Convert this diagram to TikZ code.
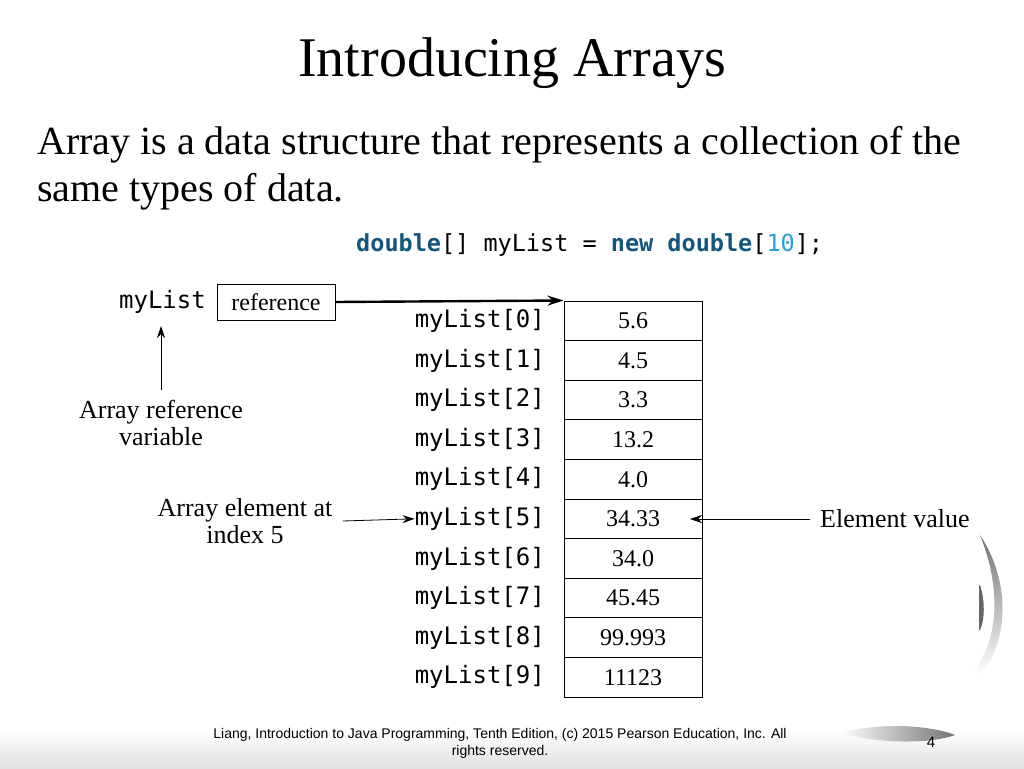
\documentclass[tikz,border=0pt]{standalone}
\usepackage{fontspec}
\usetikzlibrary{arrows.meta}
\setmainfont{Liberation Serif}
\setmonofont{DejaVu Sans Mono}
\newfontfamily\footfont{Liberation Sans}
\definecolor{kw}{RGB}{20,85,125}
\definecolor{num}{RGB}{40,160,215}
\begin{document}
\begin{tikzpicture}[x=1pt,y=-1pt,
  cell/.style={draw,line width=1pt,minimum width=138pt,minimum height=39.6pt,font=\fontsize{24}{26}\selectfont,inner sep=0pt},
  idx/.style={anchor=east,font=\ttfamily\fontsize{24}{26}\selectfont,inner sep=0pt},
  lbl/.style={align=center,font=\fontsize{26}{27}\selectfont,inner sep=0pt},
  arr/.style={-{Stealth[length=12pt,width=8pt]},line width=0.8pt}]
\useasboundingbox (0,0) rectangle (1024,768);
\fill[white] (0,0) rectangle (1024,768);
\shade[top color=white,bottom color=black!12] (0,730) rectangle (1024,768);
\shade[left color=white,right color=black!55] (840,733) .. controls (880,722) and (930,725) .. (955,735) .. controls (930,744) and (880,744) .. (840,733);
\shade[top color=black!55,bottom color=white] (980,535) .. controls (1010,580) and (1010,640) .. (980,675) -- (975,670) .. controls (1000,635) and (1000,585) .. (980,535);
\fill[black!60] (980,585) .. controls (985,600) and (985,620) .. (980,630) -- (979,630) -- (979,585) -- cycle;
\node[font=\fontsize{56}{60}\selectfont] (title) at (512,63) {Introducing Arrays};
\node[anchor=west,align=left,inner sep=0pt,font=\fontsize{40}{47}\selectfont] (body) at (37,168) {Array is a data structure that represents a collection of the\\ same types of data.};
\node[anchor=west,inner sep=0pt] (code) at (356,245) {\ttfamily\fontsize{23.5}{25}\selectfont\textbf{\color{kw}double}[] myList = \textbf{\color{kw}new double}[{\color{num}10}];};
\foreach \i/\v in {0/5.6,1/4.5,2/3.3,3/13.2,4/4.0,5/34.33,6/34.0,7/45.45,8/99.993,9/11123}{
  \node[cell] (c\i) at (633,{320.8+39.6*\i}) {\v};
  \node[idx] (l\i) at (545,{320.8+39.6*\i}) {myList[\i]};
}
\node[draw,line width=1pt,minimum width=118pt,minimum height=36pt,inner sep=0pt,font=\fontsize{24}{26}\selectfont] (ref) at (276,302) {reference};
\node[anchor=east,inner sep=0pt,font=\ttfamily\fontsize{24}{26}\selectfont] (ml) at (206,302) {myList};
\draw[line width=2.4pt,-{Stealth[length=16pt,width=10pt]}] (ref.east) -- (c0.north west);
\node[lbl] (arv) at (161,423) {Array reference\\variable};
\draw[arr] (arv.north) ++(0,-10) coordinate (a1) (a1) -- (161,326);
\node[lbl] (ae) at (245,521) {Array element at\\index 5};
\draw[arr] (ae.east) ++(10,0) coordinate (a2) (a2) -- (l5.west);
\node[lbl,anchor=west] (ev) at (820,519) {Element value};
\draw[arr] (ev.west) ++(-10,0) coordinate (a3) (a3) -- (690,519);
\node[align=center,font=\footfont\fontsize{14}{17}\selectfont] (foot) at (500,743) {Liang, Introduction to Java Programming, Tenth Edition, (c) 2015 Pearson Education, Inc. All\\rights reserved.};
\node[font=\footfont\fontsize{15}{17}\selectfont] (pg) at (931,742) {4};
\end{tikzpicture}
\end{document}
